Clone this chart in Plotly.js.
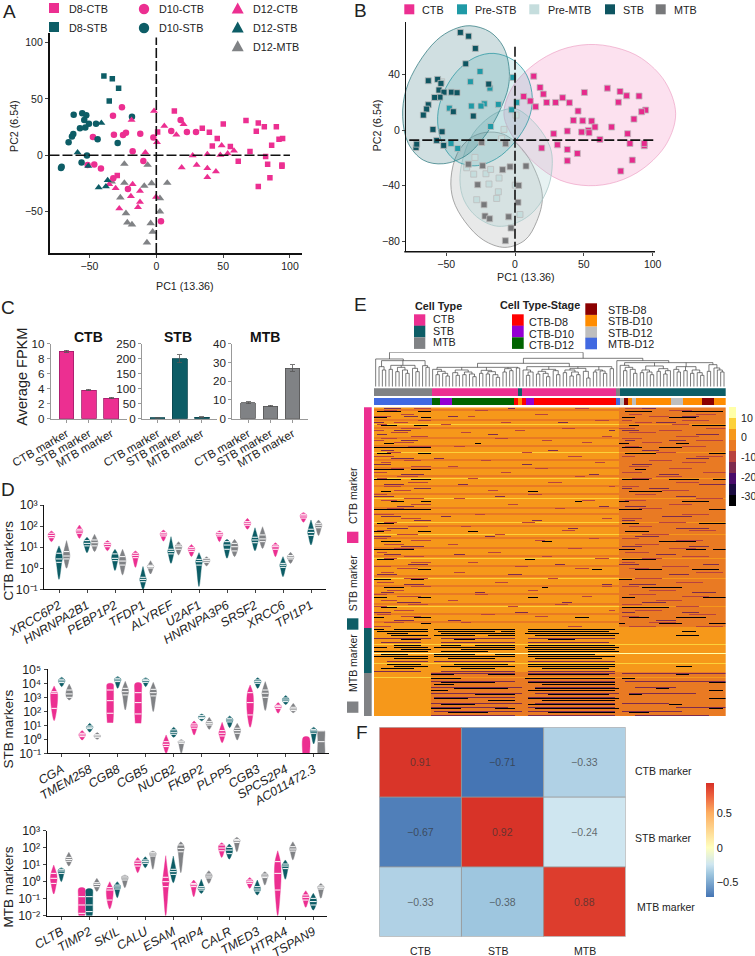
<!DOCTYPE html>
<html>
<head>
<meta charset="utf-8">
<script src="https://cdn.plot.ly/plotly-3.0.1.min.js"></script>
<style>body{margin:0;background:#fff;overflow:hidden}</style>
</head>
<body>
<div id="chart"></div>
<script>
// panel A points, [PC1, PC2]
var d8Ctb = [[13.5,39.3],[1,20.7],[39.7,20.4],[34.4,24],[50.1,27.8],[67.1,30.8],[76.3,28.7],[80.8,25.4],[89.8,25.4],[74.8,21.3],[94.5,15],[91.8,14.2],[86.3,8.9],[45.6,14.8],[41.9,8.3],[55.4,7.7],[70.1,3.3],[61.3,-5.3],[81.8,-1.2],[83.3,-8],[94,-8.6],[94,-9.8],[85,-20],[76.3,-27.8],[-29.2,-18]];
var d8Stb = [[-39.2,70.4],[-32.9,68],[-28.2,59.5],[-35.2,48.2]];
var d10Ctb = [[-25.7,42.6],[-32.4,35.2],[-31.7,18.3],[-24.9,18],[-22.7,20.1],[-47.4,16.3],[-12,19.2],[-2.2,15.7],[-17.7,3.6],[-9.7,-5],[-46.4,-8.3],[-41.4,-11.8],[-21.2,-29.9],[3.5,-58.6],[-32.2,-20.4],[11.2,21.6],[18.2,31.4],[22.9,20.7],[29.7,20.7],[-51.4,-8.6]];
var d10Stb = [[-61.8,36.1],[-55.4,37.3],[-52.4,35.5],[-53.9,31.4],[-50.4,28.1],[-53.1,24.6],[-57.1,24],[-62.1,18.9],[-63.1,16.6],[-65.6,11.5],[-45.1,28.1],[-43.9,14.2],[-28.9,10.9],[-18.2,34.3],[-55.9,-6.5],[-70.8,-10.1],[-71.3,-11.2],[-51.9,-0.3]];
var d12Ctb = [[-1.7,39.3],[-18.5,31.4],[6,26],[20.4,27.5],[15,18.3],[0.5,11.5],[-8.2,2.4],[27.2,-0.3],[38.2,0.9],[48.9,8.6],[47.9,0.3],[53.4,1.5],[58.1,4.1],[30.2,-8.6],[19,-10.9],[38.2,-11.5],[44.6,-14.5],[38.2,-19.5],[-17.7,-25.7],[-30.4,-29.3],[-12.2,-31.7],[-19,-36.4],[-0.2,-37],[-12.2,-41.4],[-13.7,-46.2],[-27.7,-47.3],[-35.2,-25.7]];
var d12Stb = [[-41.1,28.7],[-58.9,2.4],[-50.9,-9.5],[-36.4,-22.2],[-37.7,-27.8],[-43.1,-28.7]];
var d12Mtb = [[-23.9,-7.7],[-6.5,-8.6],[-3.5,-24.9],[-9,-27.2],[8.2,-24.6],[-23.9,-24.6],[-33.4,-23.4],[-26.9,-37.6],[2.7,-38.2],[2.7,-50],[-22.7,-51.5],[-21.7,-59.8],[-18.2,-61.5],[-4.2,-60.4],[-2.7,-68],[-7,-77.5]];

// panel B points
var bStb = [[-39.7,70.3],[-33.7,67.6],[-28.8,58.8],[-35.8,47.7],[-19.1,33.1],[-63,35.5],[-56.2,36.5],[-53.8,33.6],[-55.2,28.8],[-51.6,27.3],[-46.2,27.3],[-42.1,26.9],[-54.5,23.7],[-58.4,23.5],[-63,18.2],[-64.2,15.1],[-66.6,10.8],[-44.8,13.2],[-30.3,10.1],[-59.6,0.5],[-53,-1.2],[-56.9,-7.4],[-51.8,-11],[-71.9,-12.5],[-71.4,-10.1]];
var bPreStb = [[-25.4,42.2],[-32.4,34.8],[-18.2,30.2],[-1.5,37.9],[1.2,19.9],[-2.4,14.6],[-12.1,18.5],[-22.3,18.9],[-24.7,17.3],[-31.7,17.3],[-47.7,15.8],[-17.7,2.6],[-46.5,-9.6],[-41.6,-13.2]];
var bPreMtb = [[0.7,10.8],[-8,0.5],[-9.7,-6.2],[-35.1,-27.1],[-29.1,-19.7],[-30,-31.7],[-21.1,-31.4],[-17.7,-28.3],[-18.9,-38.8],[-11.6,-34.5],[-12.1,-44.4],[-13.3,-49.2],[-27.8,-50.1],[0.2,-39.6],[3.6,-60.7],[-53.3,34.8]];
var bMtb = [[-24.2,-8.9],[-6.8,-9.8],[-33.9,-24.5],[-23.5,-25.7],[-9,-28.5],[-3.6,-26.4],[8,-25.9],[-27.1,-39.3],[2.7,-39.8],[2.2,-52],[-22.5,-53.7],[-21.8,-61.9],[-18.4,-63.8],[-4.6,-62.4],[-2.9,-70.5],[-7,-79.6]];
var bCtb = [[13.6,38.8],[18.2,30.7],[20.6,25.9],[6.3,24.2],[11.1,20.9],[15,16.8],[23,19.9],[29.5,19.9],[34.6,23.3],[39.5,19.7],[50.4,27.1],[67.1,30.2],[76.3,27.8],[81.1,24.7],[90.1,24.5],[75.1,20.1],[94.9,14.4],[92,13.2],[86.4,7.9],[45.8,13.7],[42.4,7],[49.2,6.7],[55.7,6.5],[58.1,2.2],[53.3,-0.2],[53.8,-1.9],[48.4,-1.4],[38,-0.7],[28.1,-2.6],[70.2,2.2],[81.8,-2.6],[83.5,-9.6],[61.7,-6.7],[30.8,-10.6],[19.4,-12.9],[38,-13.9],[45.3,-16.8],[38,-22.1],[85.2,-21.6],[76.8,-29.5],[93.9,-11.3],[93.9,-9.6]];

// ellipse outlines
var stbOutline = [[-32.7,75.1],[-18.2,70.7],[-8.5,60],[-4.4,45.6],[-4.8,31.2],[-10.9,14.4],[-20.6,-2.4],[-35.1,-18],[-52.1,-24.2],[-66.6,-21.6],[-77.5,-9.6],[-81.6,9.6],[-79.2,28.8],[-70.2,48],[-56.9,64.7],[-44.8,72.4],[-32.7,75.1]];
var preStbOutline = [[-15.3,55.2],[-1.2,50.4],[8.5,39.6],[12.6,22.8],[9.7,7.2],[0,-8.4],[-13.3,-20.4],[-29.1,-25.7],[-43.6,-21.6],[-53.3,-8.4],[-56.2,9.6],[-52.1,26.4],[-42.4,42],[-29.1,52.3],[-15.3,55.2]];
var ctbOutline = [[53.3,61.6],[73.8,59.2],[92,51.6],[109,34.8],[116.7,12],[110.2,-9.6],[93.2,-27.6],[73.8,-37.2],[53.3,-40],[32.7,-36],[14.5,-24],[0,-7.2],[-8,10.8],[-2.4,30],[13.3,46.8],[32.7,57.6],[53.3,61.6]];
var preMtbOutline = [[1.2,15.1],[15.7,3.6],[25.4,-12],[27.1,-24],[24.2,-40.8],[14.5,-57.6],[1.2,-66.7],[-13.3,-69.1],[-27.8,-62.4],[-37,-50.4],[-40,-36],[-37.5,-19.2],[-30.3,-2.4],[-18.2,9.6],[-8.5,14.4],[1.2,15.1]];
var mtbOutline = [[-21.8,-1.7],[-8.5,-2.9],[4.8,-13.2],[14.5,-28.8],[19.9,-48],[15.7,-65.9],[7.3,-79.1],[-7.3,-84.4],[-23,-79.1],[-36.3,-65.9],[-44.8,-50.4],[-46.5,-34.8],[-41.9,-16.8],[-32.7,-6],[-21.8,-1.7]];

// panel C
var markerNames = ['CTB marker','STB marker','MTB marker'];
var fpkmCtb = [9,3.8,2.75], fpkmCtbErr = [0.12,0.1,0.08];
var fpkmStb = [3,200,5], fpkmStbErr = [1,14,2];
var fpkmMtb = [8.5,6.7,27], fpkmMtbErr = [0.6,0.4,1.8];

// panel D, log10 of [low, q1, median, q3, high] for CTB, STB, MTB cells
var ctbGenes = ['XRCC6P2','HNRNPA2B1','PEBP1P2','TFDP1','ALYREF','U2AF1','HNRNPA3P6','SRSF2','XRCC6','TPI1P1'];
var ctbViolins = [
  [[1.26,1.45,1.55,1.66,1.77],[-.53,.28,.44,.71,1.06],[0,.44,.58,.79,1.31]],
  [[1.42,1.66,1.77,1.85,2.05],[.74,1.06,1.18,1.31,1.47],[.79,1.06,1.21,1.34,1.61]],
  [[.83,1.02,1.13,1.21,1.31],[-.11,.36,.47,.68,.9],[-.32,.15,.34,.55,.9]],
  [[.04,.5,.61,.71,.82],[-1,-.64,-.53,-.43,.08],[-.27,.01,.08,.14,.36]],
  [[1.29,1.53,1.62,1.7,1.81],[.23,.68,.8,.9,1.5],[.63,.9,1.02,1.1,1.26]],
  [[.55,.8,.9,.99,1.13],[-.87,.15,.31,.42,.74],[.11,.28,.36,.45,.55]],
  [[1.26,1.53,1.61,1.69,1.78],[.47,.9,1.1,1.26,1.37],[.55,.82,1.02,1.18,1.37]],
  [[1.85,2.04,2.13,2.21,2.37],[.83,1.21,1.34,1.47,1.92],[.94,1.26,1.39,1.58,1.97]],
  [[.55,.9,1.02,1.1,1.21],[-.4,.04,.14,.23,.55],[.23,.44,.52,.6,.76]],
  [[2.18,2.38,2.48,2.56,2.64],[1.1,1.56,1.7,1.85,2.29],[1.55,1.92,2.04,2.13,2.29]]
];
var stbGenes = ['CGA','TMEM258','CGB8','CGB5','NUCB2','FKBP2','PLPP5','CGB3','SPCS2P4','AC011472.3'];
var stbViolins = [
  [[1.33,2.21,3.29,3.4,3.81],[3.76,4.05,4.17,4.29,4.43],[2.81,3,3.24,3.52,3.95]],
  [[-.05,.19,.31,.43,.62],[.52,.76,.86,.95,1.14],[0,.14,.24,.33,.48]],
  [[1.19,1.86,2.76,3.52,3.95],[3.64,4.12,4.24,4.36,4.48],[2.1,3.17,3.4,3.64,4.14]],
  [[1.14,1.81,2.62,3.33,4],[3.76,4.07,4.19,4.29,4.4],[1.98,3.1,3.33,3.57,4.07]],
  [[-1,-.52,-.36,-.17,.31],[.14,.36,.5,.67,.86],[-1,-.29,-.19,-.12,-.02]],
  [[.31,.79,.95,1.1,1.31],[1.31,1.48,1.57,1.69,1.81],[.71,1.02,1.14,1.26,1.57]],
  [[-.24,.24,.43,.62,1.21],[.83,1.24,1.38,1.5,1.67],[-.05,.43,.62,.79,1.14]],
  [[.86,1.74,2.62,3.33,3.88],[3.64,4,4.12,4.24,4.4],[2.05,3,3.29,3.52,4.12]],
  [[1.86,2.21,2.33,2.43,2.62],[2.48,2.69,2.81,2.95,3.12],[1.9,2.05,2.17,2.29,2.57]],
  [[-1,-1,-1,-1,.14],[-.33,.43,.6,.71,.86],[-1,-1,-.17,.6,.6]]
];
var stbFlat = ['2:0','3:0','9:0','9:2'];
var mtbGenes = ['CLTB','TIMP2','SKIL','CALU','ESAM','TRIP4','CALR','TMED3','HTRA4','TSPAN9'];
var mtbViolins = [
  [[-.72,-.1,.2,.49,.98],[0,.49,.63,.73,.82],[.92,1.2,1.31,1.43,1.73]],
  [[-2,-1.86,-1.37,-.88,-.39],[-2,-1.76,-1.37,-.88,-.45],[-.57,-.29,-.16,-.06,.2]],
  [[-1.6,-1.08,-.49,-.35,0],[-.94,-.43,-.31,-.2,0],[-.35,.1,.22,.33,.39]],
  [[.53,.92,1.08,1.22,1.43],[.82,1.08,1.18,1.28,1.47],[.73,1.51,1.63,1.73,1.8]],
  [[-2,-.29,0,.26,1.53],[-.06,.43,.59,.73,1.51],[.53,1.76,1.96,2.16,2.35]],
  [[-.88,-.29,-.18,-.1,.1],[-.69,-.49,-.39,-.29,.14],[-.1,.22,.33,.45,.65]],
  [[1.43,1.82,1.98,2.16,2.29],[1.33,1.65,1.86,2.02,2.22],[1.76,2.31,2.41,2.49,2.61]],
  [[-.39,-.1,0,.1,.24],[-.78,-.55,-.43,-.29,.1],[-.2,.24,.33,.45,.59]],
  [[-2,-.49,.49,1.18,1.82],[.14,.77,.92,1.04,1.28],[1.28,1.8,1.92,2.06,2.35]],
  [[-1.51,-1.08,-.92,-.78,-.53],[-1.67,-1.37,-1.17,-.98,-.68],[-.98,-.43,-.33,-.25,-.1]]
];
var mtbFlat = ['1:0','1:1'];
var superDigits = {'-':'\u207b','0':'\u2070','1':'\u00b9','2':'\u00b2','3':'\u00b3','4':'\u2074','5':'\u2075'};

// panel E, tree heights: [height, child, child...], 0 is a leaf
var mtbTree = [83,0,[78,[60,0,[50,0,0]],[64,[52,0,0],[58,[45,0,0],[50,0,[40,0,0]]],[55,0,[45,0,0]]],[63,0,[58,0,0]]]];
var ctbLeftTree = [58,[52,0,[46,[36,0,0],[40,0,[32,0,0]]]],[50,[42,0,[34,0,0]],[44,[36,0,0],[38,0,[30,0,0]]]],[49,[40,0,0],[45,[38,0,0],[36,0,[28,0,0]]]],[54,[44,0,0],[48,0,0]],[56,0,0]];
var ctbRightTree = [60,[50,0,[44,[34,0,0],0]],[52,[46,[38,0,0],[40,0,[30,0,0]]],[48,0,[36,0,0]]],[55,[50,[42,0,0],[44,[32,0,0],[36,0,0]]],[46,0,[26,0,0]]],[50,[44,0,0],[47,0,[40,0,0]]],[54,0,0]];
var stbTree = [78,0,[72,[64,0,[58,[48,0,0],[52,0,[40,0,0]]]],[62,[50,[42,0,0],[44,0,[36,0,0]]],[54,[46,0,0],[48,[38,0,0],0]]],[60,[52,0,[44,0,0]],[48,0,0],[50,[40,0,0],[42,0,[34,0,0]]]],[66,[46,0,0],[56,0,[50,0,[44,0,0]]]]]];
var fullTree = [103,mtbTree,[85,[70,ctbLeftTree,ctbRightTree],stbTree]];

// column bars, [group, columns]
var typeBar = [['MTB',17.3],['CTB',25.8],['STB',1.4],['CTB',28.1],['MTB',1.2],['STB',31.7]];
var stageBar = [['MTB-D12',17.3],['CTB-D12',2.5],['CTB-D10',3.6],['CTB-D12',18.6],['CTB-D8',1.1],['STB-D10',1.4],['CTB-D8',1.1],['CTB-D10',2.4],['CTB-D8',24.6],['MTB-D12',1.2],['STB-D12',1.2],['STB-D8',1.2],['STB-D10',1.1],['STB-D12',1.2],['STB-D10',10.5],['STB-D12',3.6],['STB-D10',5.8],['STB-D8',3.6],['STB-D10',3.5]];
var rowBar = [['CTB',221],['STB',45],['MTB',43]];

// heatmap levels, 0 lowest to 8 highest, read as tones of each marker block and column block
var rowBlockEnd = [110,133,155];
var colBlockEnd = [17,73,105];
var blockLevels = [[6,6,5],[6,6,6],[6,5,5]];
var brightRows = [8,22,35,45,57,63,75,85,99,118,128,135];
var paleRows = [123];
var dullRows = [1,6,10,15,19,26,30,34,39,43,50,53,59,65,70,74,79,84,89,93,98,103,107];
// dark dashes: [row, from, to, from, to, ...] in columns
var heavyDashes = [[2,1,8,13,17,75,83,92,104],[5,0,4,14,17,74,78,88,96],[9,2,7,12,16,76,79,95,105],[20,0,17,74,80,85,92],[18,3,6,30,32,73,76,90,94],[23,1,5,13,17,75,84,100,105],[31,0,9,11,17,78,81],[36,0,8,11,17,74,82,88,97,101,105],[42,2,5,46,49,76,86],[47,5,9,14,17,60,62,73,76,92,100],[51,0,17,73,80,100,105],[58,1,6,74,79,97,105],[62,0,3,13,17,28,31,75,82],[67,2,8,50,53,85,96],[71,0,12,73,78,93,99,101,105],[76,1,6,45,48,74,84],[81,13,17,65,68,78,86,95,103],[86,0,5,11,15,73,77],[90,3,9,50,52,80,92],[95,0,4,13,17,46,49,74,78,98,105],[100,2,7,74,88],[105,0,3,12,17,60,64,76,82,90,99],[108,14,17,73,75,85,92,100,105],
  [111,0,3,6,16,18,42,46,72],[112,1,16,19,36,38,42,46,70,92,96],[113,4,10,20,42,45,73],[114,5,16,18,30,34,42,48,72,90,97],[116,8,14,24,30,52,60],[119,6,14,20,26,30,42,46,72],[120,0,4,6,16,18,42,45,73],[121,8,17,26,42,46,72],[122,0,16,20,34,46,73],[124,2,10,18,30,36,42,46,66],[125,0,16,18,42,46,72],[126,6,16,22,36,48,68],[129,4,14,24,40,46,72],[130,6,16,20,42,46,72,90,95],[131,2,12,26,36,50,70],
  [134,17,24,34,42,46,70,90,94],[136,17,26,45,72,74,78],[138,20,36,46,72,100,105],[139,18,24,50,72],[141,24,40,48,73,84,88],[142,17,22,46,72,100,104],[144,30,42,52,70,76,80],[146,18,28,46,73,100,105],[147,34,42,50,72],[149,20,30,46,72,88,92],[151,17,26,36,42,48,73,100,104],[153,22,34,52,72,76,82]];
var softDashes = [[0,3,8,40,42,80,84],[4,9,13,22,25,92,97],[7,0,3,55,58,84,90],[11,6,11,70,72,74,79],[13,1,4,34,37,96,103],[16,8,13,75,78,88,93],[21,2,6,52,55,80,85],[25,5,12,18,21,93,100],[28,0,5,44,47,77,83],[33,8,15,64,67,85,91],[38,3,9,25,28,97,105],[40,12,17,74,77,82,88],[44,0,6,36,39,90,96],[49,7,12,67,70,75,81],[54,2,8,20,23,86,95],[56,12,17,47,50,74,78],[60,4,10,58,61,90,100],[64,0,5,33,36,78,85],[69,8,15,74,80,94,100],[73,3,8,24,27,84,90],[78,10,16,54,57,73,79,98,103],[83,1,7,40,44,88,94],[88,9,15,68,71,76,84],[92,2,6,30,33,95,102],[97,7,14,56,59,80,87],[102,0,5,42,46,74,78,92,97],[106,6,12,22,26,84,90],
  [115,0,17,20,42,46,72],[117,2,14,20,42,46,70],[127,4,16,18,42,46,72],[132,0,14,20,42,46,72],[133,17,42,46,72,74,105],[137,17,42,46,72,75,105],[140,17,44,48,72,78,90],[143,17,44,48,73,76,96],[145,18,42,46,72],[148,17,44,48,72,74,88],[150,17,40,46,72,90,105],[152,18,44,46,72,74,92],[154,17,42,46,72,78,100]];
var thinDashes = [[0,12,17,60,64,75,82],[1,3,7,30,34,88,95],[3,8,12,48,52,76,80,96,102],[4,0,5,28,30,82,88],[6,13,17,66,70,74,77,92,100],[7,6,10,38,41,78,83],[8,1,4,20,23,89,94],[10,8,14,56,60,73,78,99,105],[11,0,3,42,45,85,92],[12,5,10,26,29,76,84],[14,11,16,68,71,90,97],[15,2,7,36,40,74,80],[16,0,3,50,53,96,104],[17,6,12,62,65,80,86],[19,10,17,24,27,75,79,92,99],[22,4,8,44,47,84,90],[24,0,6,58,62,74,78,96,104],[26,9,14,32,35,82,89],[27,2,5,66,69,92,99],[29,11,17,22,25,76,82],[30,5,9,48,52,88,95],[32,0,4,38,41,74,80,98,105],[34,7,13,60,63,84,92],[35,1,4,28,31,77,83],[37,10,16,52,56,90,97],[39,3,8,70,72,74,79],[41,6,11,34,37,86,94],[43,0,4,46,50,78,84],[45,9,15,24,27,96,104],[46,2,7,62,66,75,81],[48,11,17,40,43,88,95],[50,4,9,54,57,79,86],[53,0,6,30,33,92,100],[55,8,14,68,71,74,80],[57,3,7,44,48,85,93],[59,10,16,26,29,76,83],[61,1,5,56,60,94,102],[63,7,13,36,39,80,88],[65,0,4,64,67,74,79],[66,11,17,48,51,90,98],[68,3,9,22,25,78,85],[70,6,12,58,62,88,96],[72,1,4,34,38,75,82],[74,9,15,50,53,92,100],[75,3,7,66,70,80,86],[77,11,17,28,31,74,78],[79,0,5,42,46,86,94],[80,7,13,60,64,76,82],[82,2,6,24,27,96,104],[85,9,16,52,55,78,86],[87,1,6,36,40,90,98],[89,11,17,68,71,74,79],[91,4,9,46,49,82,90],[93,0,4,30,34,76,84],[94,7,14,62,65,92,100],[96,2,7,22,25,84,92],[98,10,16,54,58,74,80],[99,0,4,40,43,90,97],[101,6,12,70,72,78,86],[103,1,5,32,36,94,102],[104,8,14,48,52,74,79],[107,3,9,26,29,82,90],[109,0,5,58,62,76,84,96,104]];
var heatColors = ['#000004','#1b0c41','#4a0c6b','#7d2b4f','#b8433f','#e97a23','#f6981a','#fcd13a','#ffffa8'];
var heatMin = -35.6, heatMax = 15.6;

// panel F
var corrCols = ['CTB','STB','MTB'];
var corrRows = ['CTB marker','STB marker','MTB marker'];
var corrValues = [[0.91,-0.71,-0.33],[-0.67,0.92,-0.24],[-0.33,-0.38,0.88]];

var PINK = '#ec2f91', TEAL = '#0d5d66', GRAY = '#808285';
var FONT = 'Liberation Sans';
var W = 755, H = 956;
var traces = [], shapes = [], annotations = [];
var layout = {
  width: W, height: H, margin: {l:0,r:0,t:0,b:0}, showlegend: false, barmode: 'stack',
  paper_bgcolor: '#fff', plot_bgcolor: 'rgba(0,0,0,0)', font: {family: FONT, size: 10.7, color: '#222'}
};

function px(v) { return v / W; }
function py(v) { return 1 - v / H; }
function col(pts, i) { return pts.map(function(p) { return p[i]; }); }

var axisCount = 0;
function addAxes(left, right, top, bottom, xopts, yopts) {
  axisCount++;
  var n = axisCount === 1 ? '' : axisCount;
  var hidden = {visible: false, fixedrange: true};
  layout['xaxis' + n] = Object.assign({domain: [px(left), px(right)], anchor: 'y' + n, showgrid: false, zeroline: false}, xopts || hidden);
  layout['yaxis' + n] = Object.assign({domain: [py(bottom), py(top)], anchor: 'x' + n, showgrid: false, zeroline: false}, yopts || hidden);
  return {xaxis: 'x' + n, yaxis: 'y' + n};
}
function label(text, x, y, opts) {
  opts = opts || {};
  annotations.push({text: text, x: px(x), y: py(y), xref: 'paper', yref: 'paper', showarrow: false,
    xanchor: opts.anchor || 'center', yanchor: 'middle', textangle: opts.angle || 0,
    font: {size: opts.size || 10.7, color: opts.color || '#222', family: FONT}});
}
function rect(x0, y0, x1, y1, color, line) {
  shapes.push({type: 'rect', xref: 'paper', yref: 'paper', x0: px(x0), x1: px(x1), y0: py(y0), y1: py(y1),
    fillcolor: color, line: {width: line ? 0.8 : 0, color: line || color}});
}

// ---- A
var axA = addAxes(49.5, 302, 33, 253,
  {range: [-79.9, 109], tickvals: [-50,0,50,100], ticks: 'outside', ticklen: 3, showline: true, linewidth: 1.6, linecolor: '#111', tickfont: {size: 10.5}},
  {range: [-86.8, 108.6], tickvals: [-50,0,50,100], ticks: 'outside', ticklen: 3, showline: true, linewidth: 1.6, linecolor: '#111', tickfont: {size: 10.5}});
function pcaTrace(pts, color, symbol, size, ax) {
  traces.push(Object.assign({type: 'scatter', mode: 'markers', x: col(pts,0), y: col(pts,1),
    marker: {color: color, symbol: symbol, size: size, line: {width: 0}}}, ax));
}
pcaTrace(d12Mtb, GRAY, 'triangle-up', 7.5, axA);
pcaTrace(d8Ctb, PINK, 'square', 5.5, axA);
pcaTrace(d8Stb, TEAL, 'square', 5.5, axA);
pcaTrace(d10Ctb, PINK, 'circle', 6.5, axA);
pcaTrace(d10Stb, TEAL, 'circle', 6.5, axA);
pcaTrace(d12Ctb, PINK, 'triangle-up', 7, axA);
pcaTrace(d12Stb, TEAL, 'triangle-up', 7, axA);
function dash(ax, x0, y0, x1, y1) {
  shapes.push({type: 'line', xref: ax.xaxis, yref: ax.yaxis, x0: x0, x1: x1, y0: y0, y1: y1, line: {color: '#111', width: 1.6, dash: '10px,3px'}});
}
dash(axA, 0, -86.8, 0, 104.7);
dash(axA, -79.9, 0, 100, 0);
label('PC1 (13.36)', 185, 285.7);
label('PC2 (6.54)', 14, 126, {angle: -90});
label('A', 9, 12, {size: 19});

function legSquare(cx, cy, color) { rect(cx-5, cy-5, cx+5, cy+5, color); }
function legCircle(cx, cy, color) {
  shapes.push({type: 'circle', xref: 'paper', yref: 'paper', x0: px(cx-5.2), x1: px(cx+5.2), y0: py(cy-5.2), y1: py(cy+5.2), fillcolor: color, line: {width: 0}});
}
function legTriangle(cx, cy, color) {
  shapes.push({type: 'path', xref: 'paper', yref: 'paper', fillcolor: color, line: {width: 0},
    path: 'M' + px(cx-6) + ' ' + py(cy+5.5) + ' L' + px(cx+6) + ' ' + py(cy+5.5) + ' L' + px(cx) + ' ' + py(cy-5.5) + ' Z'});
}
legSquare(54, 8, PINK); label('D8-CTB', 66.7, 9.3, {anchor: 'left', size: 10.8});
legSquare(54, 27, TEAL); label('D8-STB', 66.7, 28, {anchor: 'left', size: 10.8});
legCircle(144, 9, PINK); label('D10-CTB', 157, 9.3, {anchor: 'left', size: 10.8});
legCircle(144, 28, TEAL); label('D10-STB', 157, 28, {anchor: 'left', size: 10.8});
legTriangle(237.7, 8, PINK); label('D12-CTB', 250.7, 9.3, {anchor: 'left', size: 10.8});
legTriangle(237.7, 27, TEAL); label('D12-STB', 250.7, 28, {anchor: 'left', size: 10.8});
legTriangle(237.7, 45.7, GRAY); label('D12-MTB', 250.7, 46.5, {anchor: 'left', size: 10.8});

// ---- B: the x axis runs on past 100 so that the CTB ellipse is not cut
var axB = addAxes(399.36, 680.2, 21.7, 251.7,
  {range: [-84, 120], tickvals: [-50,0,50,100], ticks: 'outside', ticklen: 3, showline: false, tickfont: {size: 10.5}},
  {anchor: 'free', position: px(405), range: [-87.5, 78], tickvals: [-80,-40,0,40], ticks: 'outside', ticklen: 3, showline: true, linewidth: 1.4, linecolor: '#111', tickfont: {size: 10.5}});
shapes.push({type: 'line', xref: 'paper', yref: 'paper', x0: px(404.3), x1: px(655), y0: py(251.7), y1: py(251.7), line: {color: '#111', width: 1.4}});
function outline(pts, fill, stroke) {
  traces.push(Object.assign({type: 'scatter', mode: 'lines', x: col(pts,0), y: col(pts,1), fill: 'toself', fillcolor: fill,
    line: {color: stroke, width: 1, shape: 'spline', smoothing: 1}}, axB));
}
outline(ctbOutline, 'rgba(240,120,180,0.22)', 'rgba(235,150,190,0.6)');
outline(mtbOutline, 'rgba(150,155,155,0.22)', 'rgba(140,140,140,0.75)');
outline(preMtbOutline, 'rgba(170,210,210,0.28)', 'rgba(170,200,200,0.8)');
outline(stbOutline, 'rgba(20,95,105,0.2)', 'rgba(60,130,135,0.8)');
outline(preStbOutline, 'rgba(40,155,165,0.16)', 'rgba(50,155,165,0.8)');
function boxTrace(pts, color) {
  traces.push(Object.assign({type: 'scatter', mode: 'markers', x: col(pts,0), y: col(pts,1),
    marker: {color: color, symbol: 'square', size: 6, line: {width: 0.9, color: 'rgba(190,190,190,0.9)'}}}, axB));
}
boxTrace(bPreMtb, '#c5dddd');
boxTrace(bCtb, '#e62a8c');
boxTrace(bMtb, '#77787a');
boxTrace(bPreStb, '#1f9aa6');
boxTrace(bStb, '#0e5561');
dash(axB, 0, -87.5, 0, 61.6);
dash(axB, -76.8, -7.2, 100.5, -7.2);
label('PC1 (13.36)', 526, 277.3);
label('PC2 (6.54)', 377.3, 125, {angle: -90});
label('B', 360, 11, {size: 19});
[[409.3,'CTB',420,PINK],[462,'Pre-STB',473.3,'#1f9aa6'],[534.3,'Pre-MTB',546,'#c5dddd'],[610,'STB',620.7,'#0e5561'],[660.7,'MTB',671.7,'#77787a']].forEach(function(it) {
  legSquare(it[0], 9.3, it[3]);
  label(it[1], it[2], 9.8, {anchor: 'left', size: 10.8});
});

// ---- C
function barPanel(left, right, title, titleX, vals, errs, color, edge, yMax, ticks) {
  var ax = addAxes(left, right, 343.7, 418.7,
    {type: 'category', range: [-0.71, 2.69], tickangle: -30, tickfont: {size: 11.6}, ticks: 'outside', ticklen: 3, showline: true, linewidth: 1, linecolor: '#999', tickcolor: '#999'},
    {range: [0, yMax], tickvals: ticks, ticks: 'outside', ticklen: 3, showline: true, linewidth: 1, linecolor: '#999', tickcolor: '#999', tickfont: {size: 11.6}});
  traces.push(Object.assign({type: 'bar', x: markerNames, y: vals, width: 0.66, marker: {color: color, line: {color: edge, width: 0.8}},
    error_y: {type: 'data', array: errs, visible: true, color: '#555', thickness: 0.8, width: 2.5}}, ax));
  label('<b>' + title + '</b>', titleX, 337, {size: 14, color: '#111'});
}
barPanel(50.7, 126.7, 'CTB', 88, fpkmCtb, fpkmCtbErr, PINK, '#a01c68', 10, [0,2,4,6,8,10]);
barPanel(142, 217, 'STB', 178, fpkmStb, fpkmStbErr, TEAL, '#0a454d', 250, [0,50,100,150,200,250]);
barPanel(232.3, 308, 'MTB', 265, fpkmMtb, fpkmMtbErr, GRAY, '#555', 40, [0,10,20,30,40]);
label('Average FPKM', 22, 376.7, {angle: -90, size: 14.5});
label('C', 8, 307, {size: 19});

// ---- D
var VIOLIN_HALF = 0.12, VIOLIN_STEP = 0.27;
var ROUND_PROFILE = [0,0.8,1,0.8,0], FLAT_PROFILE = [0.85,1,1,1,0.85];
function powerLabel(p) {
  return '10' + String(p).split('').map(function(c) { return superDigits[c]; }).join('');
}
function violinPanel(left, right, top, bottom, firstTick, genes, rows, flat, yRange, title, titleY) {
  var tickPow = [];
  for (var p = yRange[0]; p <= yRange[1]; p++) tickPow.push(p);
  var ax = addAxes(left, right, top, bottom,
    {range: [(left-firstTick)/28, (right-firstTick)/28], tickvals: genes.map(function(g,i){return i;}), ticktext: genes, tickangle: -30,
     tickfont: {size: 12.4, style: 'italic'}, ticks: 'outside', ticklen: 3, showline: true, linewidth: 1.1, linecolor: '#111'},
    {type: 'log', range: yRange, tickvals: tickPow.map(function(p){return Math.pow(10,p);}), ticktext: tickPow.map(powerLabel),
     ticks: 'outside', ticklen: 3, showline: true, linewidth: 1.1, linecolor: '#111', tickfont: {size: 12.4}});
  [PINK, TEAL, GRAY].forEach(function(color, s) {
    var xs = [], ys = [], lx = [], ly = [];
    rows.forEach(function(row, g) {
      var r = row[s], cx = g + (s-1)*VIOLIN_STEP;
      var prof = flat.indexOf(g + ':' + s) >= 0 ? FLAT_PROFILE : ROUND_PROFILE;
      for (var i = 0; i < 5; i++) { xs.push(cx - VIOLIN_HALF*prof[i]); ys.push(Math.pow(10, r[i])); }
      for (i = 4; i >= 0; i--) { xs.push(cx + VIOLIN_HALF*prof[i]); ys.push(Math.pow(10, r[i])); }
      xs.push(null); ys.push(null);
      for (i = 1; i < 4; i++) {
        if (r[i] <= yRange[0]) continue;
        lx.push(cx - VIOLIN_HALF*prof[i], cx + VIOLIN_HALF*prof[i], null);
        ly.push(Math.pow(10,r[i]), Math.pow(10,r[i]), null);
      }
    });
    traces.push(Object.assign({type: 'scatter', mode: 'lines', x: xs, y: ys, fill: 'toself', fillcolor: color, line: {color: color, width: 0.4, shape: 'spline', smoothing: 1}, connectgaps: false}, ax));
    traces.push(Object.assign({type: 'scatter', mode: 'lines', x: lx, y: ly, line: {color: '#fff', width: 1}}, ax));
  });
  label(title, 7.5, titleY, {angle: -90, size: 13.5});
}
violinPanel(44.3, 326, 505, 589.3, 59, ctbGenes, ctbViolins, [], [-1,3], 'CTB markers', 561);
violinPanel(47.7, 329, 669.3, 753.3, 61.7, stbGenes, stbViolins, stbFlat, [-1,5], 'STB markers', 729);
violinPanel(46.7, 326.7, 830.7, 915.7, 61.3, mtbGenes, mtbViolins, mtbFlat, [-2,3], 'MTB markers', 887);
label('D', 8, 489, {size: 19});

// ---- E
var HEAT_L = 374, HEAT_R = 725.7;
var axDendro = addAxes(HEAT_L, HEAT_R, 352.3, 386.7, {visible: false, range: [-0.5, 104.5]}, {visible: false, range: [0, 103]});
var treeX = [], treeY = [], leafIndex = 0;
function drawTree(node) {
  if (node === 0) return {x: leafIndex++, h: 0};
  var kids = node.slice(1).map(drawTree), h = node[0];
  treeX.push(kids[0].x, kids[kids.length-1].x, null);
  treeY.push(h, h, null);
  kids.forEach(function(k) { treeX.push(k.x, k.x, null); treeY.push(h, k.h, null); });
  return {x: (kids[0].x + kids[kids.length-1].x) / 2, h: h};
}
drawTree(fullTree);
traces.push(Object.assign({type: 'scatter', mode: 'lines', x: treeX, y: treeY, line: {color: '#444', width: 0.7}}, axDendro));

var groupColors = {CTB: PINK, STB: TEAL, MTB: GRAY, 'CTB-D8': '#ff0000', 'CTB-D10': '#9400d3', 'CTB-D12': '#006400',
  'STB-D8': '#8b0000', 'STB-D10': '#ff8c00', 'STB-D12': '#bebebe', 'MTB-D12': '#4169e1'};
function columnBar(top, bottom, segments) {
  var ax = addAxes(HEAT_L, HEAT_R, top, bottom, {visible: false, range: [0, 105.5]}, {visible: false, range: [-0.5, 0.5]});
  segments.forEach(function(s) {
    traces.push(Object.assign({type: 'bar', orientation: 'h', x: [s[1]], y: [0], width: 1, marker: {color: groupColors[s[0]], line: {width: 0}}}, ax));
  });
}
columnBar(388.3, 396, typeBar);
columnBar(397.7, 405.3, stageBar);
var axSide = addAxes(364, 371.7, 407.3, 716, {visible: false, range: [-0.5, 0.5]}, {visible: false, range: [309, 0]});
rowBar.forEach(function(s) {
  traces.push(Object.assign({type: 'bar', x: [0], y: [s[1]], width: 1, marker: {color: groupColors[s[0]], line: {width: 0}}}, axSide));
});

function blockOf(ends, i) {
  for (var b = 0; b < ends.length; b++) if (i < ends[b]) return b;
  return ends.length - 1;
}
// each listed row is two image rows, so a dash is a single hair line
var heatLevels = [];
for (var r = 0; r < rowBlockEnd[rowBlockEnd.length-1] * 2; r++) {
  var levelRow = [], listed = Math.floor(r / 2);
  for (var c = 0; c < colBlockEnd[colBlockEnd.length-1]; c++) {
    var lv = blockLevels[blockOf(rowBlockEnd, listed)][blockOf(colBlockEnd, c)];
    if (brightRows.indexOf(listed) >= 0 && r % 2 === 1) lv = lv + 1;
    if (dullRows.indexOf(listed) >= 0 && c < colBlockEnd[1]) lv = 5;
    if (paleRows.indexOf(listed) >= 0) lv = 8;
    levelRow.push(lv);
  }
  heatLevels.push(levelRow);
}
function stamp(dashes, level, half) {
  dashes.forEach(function(d) {
    for (var i = 1; i < d.length; i += 2) {
      for (var cc = d[i]; cc < d[i+1]; cc++) heatLevels[d[0] * 2 + half][cc] = level;
    }
  });
}
stamp(thinDashes, 4, 1);
stamp(softDashes, 3, 1);
stamp(heavyDashes, 0, 0);
var heatZ = heatLevels.map(function(row) {
  return row.map(function(l) { return heatMin + (l + 0.5) * (heatMax - heatMin) / heatColors.length; });
});
var heatScale = [];
heatColors.forEach(function(c, i) {
  heatScale.push([i / heatColors.length, c], [(i + 1) / heatColors.length, c]);
});
var axHeat = addAxes(HEAT_L, HEAT_R, 407.3, 716, {visible: false, range: [-0.5, 104.5]}, {visible: false, range: [heatZ.length - 0.5, -0.5]});
traces.push(Object.assign({type: 'heatmap', z: heatZ, zmin: heatMin, zmax: heatMax, colorscale: heatScale, zsmooth: false,
  colorbar: {thickness: 7, thicknessmode: 'pixels', len: 99.4, lenmode: 'pixels', x: px(728.7), xanchor: 'left', y: py(407.3), yanchor: 'top',
    xpad: 0, ypad: 0, outlinewidth: 0, showticklabels: false, ticks: ''}}, axHeat));
[['10',418],['0',437],['-10',456.7],['-20',476.7],['-30',495.7]].forEach(function(t) {
  label(t[0], 739, t[1], {anchor: 'left', size: 10.6});
});

label('E', 360, 305, {size: 19});
label('<b>Cell Type</b>', 438.3, 306, {size: 10.8});
[['CTB',314.3,319.3,PINK],['STB',325.7,330.7,TEAL],['MTB',337.3,342,GRAY]].forEach(function(it) {
  rect(414, it[1], 425.3, it[1]+11.6, it[3]);
  label(it[0], 430.7, it[2], {anchor: 'left', size: 10.8});
});
label('<b>Cell Type-Stage</b>', 540, 305.3, {size: 10.8});
[['CTB-D8',314.3,322],['CTB-D10',325.7,333.7],['CTB-D12',337.3,345]].forEach(function(it) {
  rect(512, it[1], 523.7, it[1]+11.6, groupColors[it[0]]);
  label(it[0], 526.7, it[2], {anchor: 'left', size: 10.8});
});
[['STB-D8',303.3,310],['STB-D10',315,321.3],['STB-D12',326.7,332.7],['MTB-D12',337.7,344.3]].forEach(function(it) {
  rect(585.3, it[1], 597, it[1]+11.6, groupColors[it[0]]);
  label(it[0], 605.7, it[2], {anchor: 'left', size: 10.8});
});
label('CTB marker', 353, 496, {angle: -90, size: 10.5});
label('STB marker', 353, 583.3, {angle: -90, size: 10.5});
label('MTB marker', 353, 663, {angle: -90, size: 10.5});
rect(347, 531.7, 358.4, 543, PINK);
rect(347, 618.3, 358.4, 629.7, TEAL);
rect(347, 701.5, 358.4, 712.8, GRAY);

// ---- F
var corrMin = -0.71, corrMax = 0.93;
function stop(v) { return (v - corrMin) / (corrMax - corrMin); }
var corrScale = [[0,'#4575b4'],[stop(-0.38),'#9ec6df'],[stop(-0.24),'#cfe6f0'],[stop(0),'#ffffbf'],[stop(0.5),'#fdae61'],[stop(0.75),'#ec5f3d'],[1,'#d73027']];
var axCorr = addAxes(379.3, 625.7, 727.3, 936.7, {visible: false, range: [-0.5, 2.5]}, {visible: false, range: [2.5, -0.5]});
traces.push(Object.assign({type: 'heatmap', x: [0,1,2], y: [0,1,2], z: corrValues, zmin: corrMin, zmax: corrMax, colorscale: corrScale,
  text: corrValues.map(function(r) { return r.map(function(v) { return v.toFixed(2).replace('-', '\u2212'); }); }),
  texttemplate: '%{text}', textfont: {size: 10.5, color: 'rgba(50,50,50,0.7)', family: FONT},
  colorbar: {thickness: 8, thicknessmode: 'pixels', len: 114, lenmode: 'pixels', x: px(706), xanchor: 'left', y: py(783), yanchor: 'top',
    xpad: 0, ypad: 0, outlinewidth: 0, tickvals: [-0.5,0,0.5], ticktext: ['\u22120.5','0','0.5'], ticks: '', tickfont: {size: 11}}}, axCorr));
[-0.5,0.5,1.5,2.5].forEach(function(v) {
  shapes.push({type: 'line', xref: axCorr.xaxis, yref: axCorr.yaxis, x0: v, x1: v, y0: -0.5, y1: 2.5, line: {color: '#999', width: 0.9}});
  shapes.push({type: 'line', xref: axCorr.xaxis, yref: axCorr.yaxis, x0: -0.5, x1: 2.5, y0: v, y1: v, line: {color: '#999', width: 0.9}});
});
label(corrRows[0], 663, 770.7, {size: 10.5});
label(corrRows[1], 663, 838, {size: 10.5});
label(corrRows[2], 666, 907, {size: 10.5});
label(corrCols[0], 420.7, 951, {size: 10.5});
label(corrCols[1], 497.7, 951, {size: 10.5});
label(corrCols[2], 584.7, 951, {size: 10.5});
label('F', 362, 732, {size: 19});

layout.shapes = shapes;
layout.annotations = annotations;
Plotly.newPlot('chart', traces, layout, {displayModeBar: false, staticPlot: true});
</script>
</body>
</html>
